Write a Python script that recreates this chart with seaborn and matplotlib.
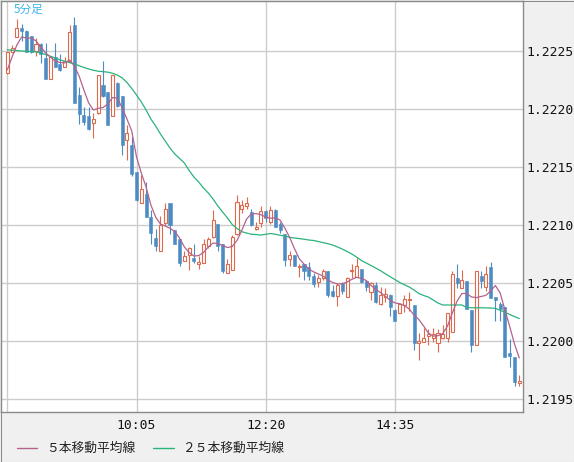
import numpy as np
import pandas as pd
import matplotlib
matplotlib.use("Agg")
import matplotlib.pyplot as plt
from matplotlib.lines import Line2D
from matplotlib.patches import Rectangle
import seaborn as sns

# ---------------- data (5-minute candles, 7:50 onward) ----------------
tick_bars = [0, 27, 54, 81]
tick_labels = ["", "10:05", "12:20", "14:35"]
y_ticks = [1.2195, 1.2200, 1.2205, 1.2210, 1.2215, 1.2220, 1.2225]
chart_title = "5分足"
legend_labels = ["５本移動平均線", "２５本移動平均線"]

open_ = [1.22231, 1.22249, 1.22262, 1.22270, 1.22267, 1.22263, 1.22250, 1.22256, 1.22244, 1.22226,
         1.22245, 1.22239, 1.22236, 1.22241, 1.22272, 1.22212, 1.22195, 1.22194, 1.22188, 1.22197,
         1.22221, 1.22215, 1.22194, 1.22222, 1.22211, 1.22173, 1.22169, 1.22146, 1.22119, 1.22127,
         1.22107, 1.22089, 1.22078, 1.22102, 1.22119, 1.22096, 1.22088, 1.22069, 1.22074, 1.22072,
         1.22066, 1.22067, 1.22082, 1.22090, 1.22101, 1.22084, 1.22059, 1.22061, 1.22092, 1.22114,
         1.22116, 1.22111, 1.22097, 1.22102, 1.22112, 1.22103, 1.22113, 1.22101, 1.22092, 1.22071,
         1.22074, 1.22064, 1.22066, 1.22064, 1.22056, 1.22051, 1.22054, 1.22060, 1.22043, 1.22039,
         1.22050, 1.22038, 1.22060, 1.22055, 1.22062, 1.22052, 1.22042, 1.22048, 1.22032, 1.22038,
         1.22040, 1.22027, 1.22024, 1.22031, 1.22035, 1.22031, 1.21998, 1.21999, 1.22004, 1.22003,
         1.21998, 1.22003, 1.22003, 1.22008, 1.22054, 1.22046, 1.22052, 1.22027, 1.21997, 1.22056,
         1.22047, 1.22064, 1.22038, 1.22032, 1.22029, 1.21990, 1.21986, 1.21964]

high = [1.22250, 1.22255, 1.22278, 1.22273, 1.22268, 1.22263, 1.22261, 1.22257, 1.22257, 1.22245,
        1.22257, 1.22247, 1.22245, 1.22272, 1.22279, 1.22219, 1.22202, 1.22202, 1.22197, 1.22229,
        1.22241, 1.22215, 1.22229, 1.22223, 1.22211, 1.22186, 1.22176, 1.22146, 1.22143, 1.22137,
        1.22113, 1.22097, 1.22108, 1.22119, 1.22119, 1.22096, 1.22088, 1.22078, 1.22081, 1.22084,
        1.22073, 1.22088, 1.22090, 1.22113, 1.22101, 1.22084, 1.22071, 1.22091, 1.22126, 1.22122,
        1.22124, 1.22114, 1.22103, 1.22116, 1.22113, 1.22116, 1.22114, 1.22103, 1.22092, 1.22078,
        1.22074, 1.22066, 1.22066, 1.22068, 1.22059, 1.22057, 1.22062, 1.22060, 1.22048, 1.22050,
        1.22051, 1.22055, 1.22066, 1.22072, 1.22062, 1.22053, 1.22051, 1.22051, 1.22047, 1.22046,
        1.22041, 1.22028, 1.22033, 1.22040, 1.22042, 1.22031, 1.22007, 1.22011, 1.22010, 1.22011,
        1.22010, 1.22014, 1.22024, 1.22060, 1.22066, 1.22061, 1.22052, 1.22027, 1.22060, 1.22060,
        1.22065, 1.22068, 1.22038, 1.22034, 1.22029, 1.22002, 1.21986, 1.21971]

low = [1.22230, 1.22249, 1.22262, 1.22259, 1.22249, 1.22248, 1.22246, 1.22240, 1.22226, 1.22226,
       1.22236, 1.22233, 1.22236, 1.22240, 1.22205, 1.22187, 1.22186, 1.22182, 1.22175, 1.22196,
       1.22210, 1.22186, 1.22194, 1.22202, 1.22160, 1.22156, 1.22142, 1.22121, 1.22119, 1.22107,
       1.22084, 1.22078, 1.22078, 1.22100, 1.22092, 1.22084, 1.22065, 1.22069, 1.22061, 1.22067,
       1.22062, 1.22067, 1.22080, 1.22089, 1.22078, 1.22059, 1.22059, 1.22061, 1.22091, 1.22110,
       1.22114, 1.22099, 1.22096, 1.22098, 1.22103, 1.22101, 1.22098, 1.22093, 1.22065, 1.22065,
       1.22065, 1.22055, 1.22053, 1.22053, 1.22047, 1.22047, 1.22053, 1.22038, 1.22038, 1.22030,
       1.22041, 1.22038, 1.22054, 1.22055, 1.22050, 1.22043, 1.22035, 1.22033, 1.22031, 1.22034,
       1.22022, 1.22017, 1.22024, 1.22025, 1.22026, 1.21992, 1.21984, 1.21999, 1.21997, 1.21999,
       1.21991, 1.22002, 1.21999, 1.22008, 1.22046, 1.22046, 1.22028, 1.21991, 1.21997, 1.22046,
       1.22043, 1.22037, 1.22017, 1.22017, 1.21986, 1.21978, 1.21961, 1.21961]

close = [1.22249, 1.22253, 1.22270, 1.22267, 1.22249, 1.22249, 1.22256, 1.22247, 1.22226, 1.22245,
         1.22236, 1.22234, 1.22241, 1.22266, 1.22205, 1.22196, 1.22189, 1.22183, 1.22191, 1.22229,
         1.22211, 1.22186, 1.22229, 1.22203, 1.22169, 1.22179, 1.22144, 1.22122, 1.22131, 1.22107,
         1.22093, 1.22082, 1.22100, 1.22114, 1.22100, 1.22084, 1.22067, 1.22073, 1.22080, 1.22069,
         1.22068, 1.22084, 1.22088, 1.22104, 1.22082, 1.22060, 1.22066, 1.22090, 1.22120, 1.22117,
         1.22119, 1.22100, 1.22098, 1.22112, 1.22106, 1.22113, 1.22098, 1.22096, 1.22070, 1.22074,
         1.22065, 1.22065, 1.22060, 1.22056, 1.22049, 1.22054, 1.22060, 1.22040, 1.22039, 1.22048,
         1.22043, 1.22054, 1.22061, 1.22065, 1.22051, 1.22047, 1.22050, 1.22034, 1.22040, 1.22041,
         1.22029, 1.22017, 1.22032, 1.22036, 1.22036, 1.21998, 1.22000, 1.22003, 1.22006, 1.22006,
         1.22007, 1.22006, 1.22024, 1.22058, 1.22050, 1.22053, 1.22028, 1.21997, 1.22060, 1.22052,
         1.22058, 1.22037, 1.22035, 1.22028, 1.21986, 1.21987, 1.21965, 1.21966]

ma5 = [1.222337, 1.222449, 1.222552, 1.222621, 1.222612, 1.222612, 1.222587, 1.222535, 1.222483, 1.222449,
       1.222414, 1.222401, 1.222397, 1.222423, 1.222371, 1.222285, 1.222164, 1.222052, 1.221992, 1.222006,
       1.222013, 1.222043, 1.222099, 1.222095, 1.222009, 1.221914, 1.221811, 1.221587, 1.221449, 1.221328,
       1.221173, 1.221069, 1.221009, 1.220992, 1.220972, 1.220944, 1.220888, 1.220811, 1.220763, 1.220733,
       1.220737, 1.220763, 1.220811, 1.220845, 1.220841, 1.220824, 1.220806, 1.220815, 1.220867, 1.220953,
       1.221052, 1.221095, 1.221099, 1.221089, 1.221069, 1.221059, 1.221062, 1.221043, 1.220974, 1.220893,
       1.220798, 1.220711, 1.220664, 1.220621, 1.220597, 1.220578, 1.220561, 1.220526, 1.220505, 1.220493,
       1.220493, 1.220509, 1.220532, 1.220549, 1.220541, 1.220522, 1.220480, 1.220446, 1.220418, 1.220386,
       1.220351, 1.220329, 1.220322, 1.220306, 1.220276, 1.220224, 1.220186, 1.220130, 1.220069, 1.220043,
       1.220046, 1.220065, 1.220130, 1.220242, 1.220345, 1.220410, 1.220410, 1.220380, 1.220375, 1.220384,
       1.220394, 1.220431, 1.220479, 1.220414, 1.220267, 1.220125, 1.219974, 1.219854]

ma25 = [1.222511, 1.222507, 1.222504, 1.222500, 1.222498, 1.222495, 1.222492, 1.222483, 1.222470, 1.222455,
        1.222440, 1.222424, 1.222412, 1.222401, 1.222390, 1.222373, 1.222358, 1.222345, 1.222334, 1.222326,
        1.222322, 1.222318, 1.222308, 1.222293, 1.222268, 1.222229, 1.222177, 1.222121, 1.222061, 1.221992,
        1.221914, 1.221854, 1.221785, 1.221724, 1.221664, 1.221612, 1.221574, 1.221535, 1.221470, 1.221414,
        1.221371, 1.221319, 1.221276, 1.221224, 1.221164, 1.221112, 1.221061, 1.221005, 1.220970, 1.220943,
        1.220931, 1.220921, 1.220918, 1.220914, 1.220920, 1.220927, 1.220921, 1.220912, 1.220905, 1.220894,
        1.220888, 1.220883, 1.220878, 1.220871, 1.220867, 1.220858, 1.220848, 1.220839, 1.220828, 1.220811,
        1.220793, 1.220772, 1.220750, 1.220724, 1.220694, 1.220673, 1.220651, 1.220629, 1.220606, 1.220580,
        1.220555, 1.220530, 1.220505, 1.220485, 1.220466, 1.220440, 1.220410, 1.220393, 1.220379, 1.220354,
        1.220328, 1.220311, 1.220311, 1.220311, 1.220311, 1.220311, 1.220289, 1.220287, 1.220287, 1.220287,
        1.220286, 1.220285, 1.220282, 1.220265, 1.220248, 1.220229, 1.220211, 1.220194]

# ---------------- styling ----------------
RED = "#dd6a4c"
BLUE = "#4d8bc3"
PINK = "#b4628e"
GREEN = "#2bb37a"
GRID = "#cccccc"
FRAME = "#8a8a8a"
BG = "#f0f0f0"

sns.set_theme(style="white")
plt.rcParams["font.family"] = ["DejaVu Sans Mono", "Noto Sans CJK JP"]

W, H = 574, 462
fig = plt.figure(figsize=(W / 100, H / 100), dpi=100, facecolor=BG)
ax = fig.add_axes([1 / W, (H - 411.5) / H, 522 / W, 410.5 / H])
ax.set_facecolor("white")

n = len(close)
assert len(open_) == len(high) == len(low) == n == len(ma5) == len(ma25)
df = pd.DataFrame({"bar": np.arange(n), "open": open_, "high": high,
                   "low": low, "close": close, "ma5": ma5, "ma25": ma25})
up = df["close"] >= df["open"]
dn = ~up
bw = 0.64

# wicks
ax.vlines(df.loc[up, "bar"], df.loc[up, "low"], df.loc[up, "high"], color=RED, lw=0.8, zorder=2)
ax.vlines(df.loc[dn, "bar"], df.loc[dn, "low"], df.loc[dn, "high"], color=BLUE, lw=0.8, zorder=2)
# bodies
ax.bar(df.loc[up, "bar"], (df["close"] - df["open"])[up], bottom=df.loc[up, "open"],
       width=bw, facecolor="white", edgecolor=RED, linewidth=0.8, zorder=3)
ax.bar(df.loc[dn, "bar"], (df["open"] - df["close"])[dn], bottom=df.loc[dn, "close"],
       width=bw, facecolor=BLUE, edgecolor=BLUE, linewidth=0.4, zorder=3)

# moving averages
sns.lineplot(data=df, x="bar", y="ma25", ax=ax, color=GREEN, lw=0.9, estimator=None, zorder=4)
sns.lineplot(data=df, x="bar", y="ma5", ax=ax, color=PINK, lw=0.9, estimator=None, zorder=5)

ax.set_xlim(-1.32, 107.77)
ax.set_ylim(1.219393, 1.222931)
ax.set_xlabel("")
ax.set_ylabel("")

ax.set_xticks(tick_bars)
ax.set_xticklabels(tick_labels)
ax.yaxis.tick_right()
ax.set_yticks(y_ticks)
ax.set_yticklabels([f"{v:.4f}" for v in y_ticks])
ax.tick_params(axis="both", length=0, labelsize=9.4, colors="#111111")
ax.tick_params(axis="x", pad=5.5)
ax.tick_params(axis="y", pad=2.2)
ax.grid(True, color=GRID, lw=1.0)
ax.set_axisbelow(True)
for s in ax.spines.values():
    s.set_color(FRAME)
    s.set_linewidth(1.0)
    s.set_visible(True)

# chart type label
fig.text(14 / W, 1 - 9.5 / H, chart_title, color="#3db6ea", fontsize=8.4,
         family=["Noto Sans CJK JP", "DejaVu Sans"], va="center", ha="left")

# legend (drawn manually, as in the source widget)
ly = 1 - 448 / H
fig.add_artist(Line2D([16.5 / W, 36.6 / W], [ly, ly], transform=fig.transFigure, color=PINK, lw=1))
fig.text(45.8 / W, ly, legend_labels[0], fontsize=9.2, family=["Noto Sans CJK JP", "DejaVu Sans"],
         va="center", ha="left", color="#222222")
fig.add_artist(Line2D([152.5 / W, 173.5 / W], [ly, ly], transform=fig.transFigure, color=GREEN, lw=1))
fig.text(182 / W, ly, legend_labels[1], fontsize=9.2, family=["Noto Sans CJK JP", "DejaVu Sans"],
         va="center", ha="left", color="#222222")

# outer frame
fig.add_artist(Rectangle((0.5 / W, 0.5 / H), (W - 1) / W, (H - 1) / H, transform=fig.transFigure,
                         fill=False, edgecolor=FRAME, lw=0.75))

fig.savefig("out.png", dpi=100, facecolor=BG)
